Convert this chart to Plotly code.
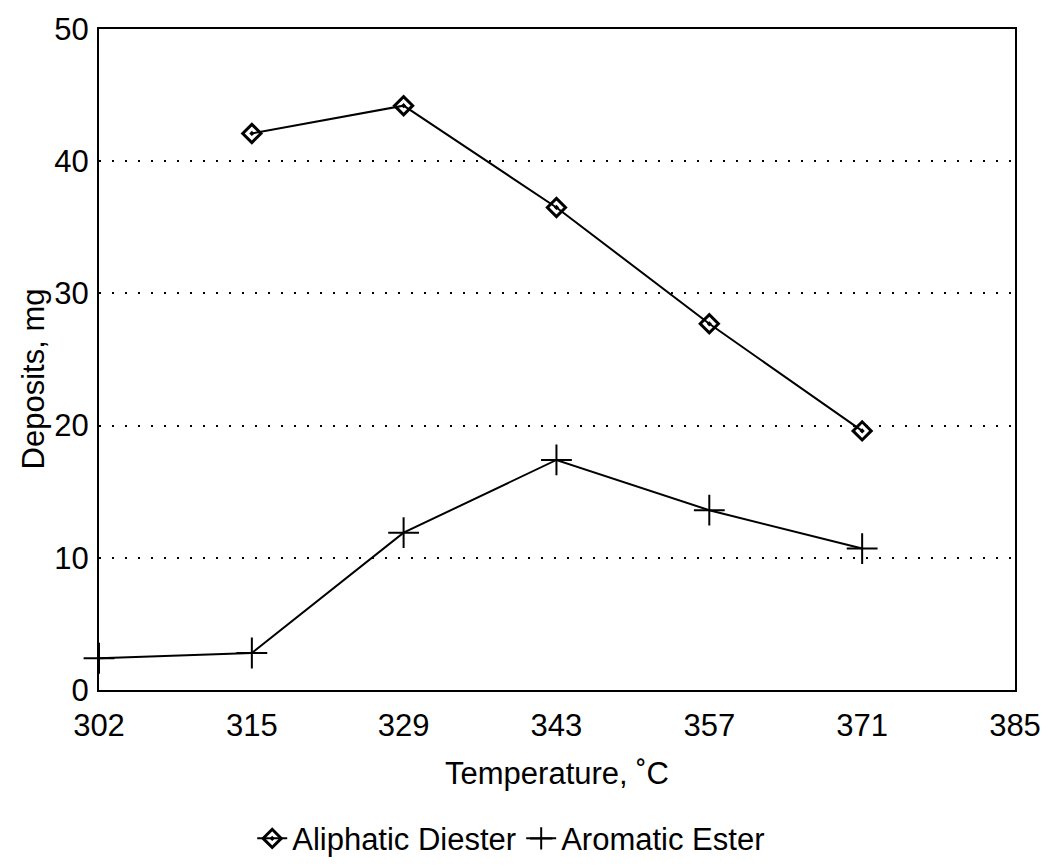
import plotly.graph_objects as go

# Temperatures (deg C) of the test points
temp_aliphatic = [315.6, 329.4, 343.3, 357.2, 371.1]
deposits_aliphatic = [42.1, 44.2, 36.5, 27.7, 19.6]

temp_aromatic = [301.7, 315.6, 329.4, 343.3, 357.2, 371.1]
deposits_aromatic = [2.4, 2.8, 11.9, 17.4, 13.6, 10.7]

x_tickvals = [301.7, 315.6, 329.4, 343.3, 357.2, 371.1, 385.0]
x_ticktext = ["302", "315", "329", "343", "357", "371", "385"]
y_tickvals = [0, 10, 20, 30, 40, 50]

FONT = "Liberation Sans, Arial, Helvetica, sans-serif"

fig = go.Figure()
fig.add_trace(go.Scatter(
    x=temp_aliphatic, y=deposits_aliphatic, name="Aliphatic Diester",
    mode="lines+markers", cliponaxis=False,
    line=dict(color="black", width=2),
    marker=dict(symbol="diamond-open-dot", size=14, color="black",
                line=dict(color="black", width=3)),
))
fig.add_trace(go.Scatter(
    x=temp_aromatic, y=deposits_aromatic, name="Aromatic Ester",
    mode="lines+markers", cliponaxis=False,
    line=dict(color="black", width=2),
    marker=dict(symbol="cross-thin", size=22, color="black",
                line=dict(color="black", width=2)),
))

fig.update_layout(
    width=1049, height=867,
    margin=dict(l=99, r=34, t=29, b=177, autoexpand=False),
    paper_bgcolor="white", plot_bgcolor="white",
    font=dict(family=FONT, size=31, color="black"),
    showlegend=True,
    legend=dict(orientation="h", x=0.45, xanchor="center", y=-0.225, yanchor="middle",
                font=dict(size=31), itemwidth=30, bgcolor="rgba(0,0,0,0)"),
    xaxis=dict(
        range=[301.7, 385.0], tickmode="array", tickvals=x_tickvals, ticktext=x_ticktext,
        showline=True, linecolor="black", linewidth=2, mirror=True,
        showgrid=False, zeroline=False, ticks="", ticklabelstandoff=7,
        tickfont=dict(size=31), automargin=False,
        title=dict(text="Temperature, ˚C", font=dict(size=31), standoff=20),
    ),
    yaxis=dict(
        range=[0, 50], tickmode="array", tickvals=y_tickvals,
        showline=True, linecolor="black", linewidth=2, mirror=True,
        showgrid=True, gridcolor="black", gridwidth=2, griddash="2px,11px",
        zeroline=False, ticks="", ticklabelstandoff=2,
        tickfont=dict(size=31), automargin=False,
    ),
    annotations=[dict(
        text="Deposits, mg", textangle=-90, showarrow=False,
        xref="paper", yref="paper", x=-0.072, y=0.47,
        xanchor="center", yanchor="middle", font=dict(size=31),
    )],
)

fig.write_html("out.html")
